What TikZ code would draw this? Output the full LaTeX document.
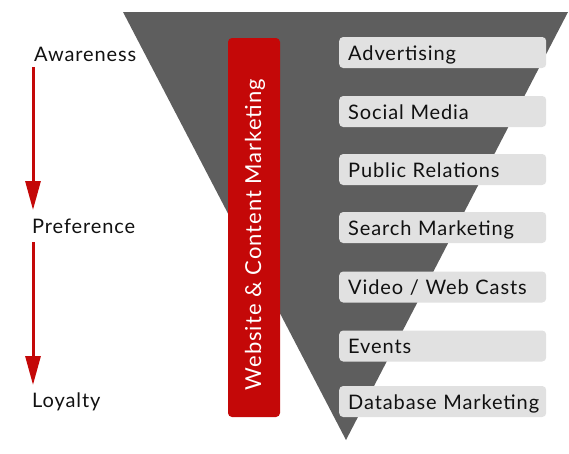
\documentclass[tikz,border=0pt]{standalone}
\usepackage{fontspec}
\setmainfont{Lato}[LetterSpace=4.5]
\usetikzlibrary{arrows.meta}
\definecolor{funnel}{HTML}{5E5E5E}
\definecolor{barred}{HTML}{C40808}
\definecolor{boxgrey}{HTML}{E1E1E1}
\definecolor{txt}{HTML}{111111}
\tikzset{
  chan/.style={anchor=west, fill=boxgrey, rounded corners=4pt, minimum width=207pt,
    minimum height=31pt, inner xsep=0pt, text width=207pt, align=left,
    text height=15pt, text depth=0pt,
    execute at begin node={\hyphenpenalty=10000\hspace*{9pt}},
    font=\fontsize{20}{22}\selectfont, text=txt},
  stage/.style={anchor=base west, inner sep=0pt, font=\fontsize{20}{22}\selectfont, text=txt},
  flow/.style={draw=barred, line width=3pt, -{Triangle[length=29pt,width=15pt]}}
}
\begin{document}
\begin{tikzpicture}[x=1pt,y=-1pt]
\useasboundingbox (0,0) rectangle (569,453);
\fill[funnel] (123,12) -- (568,12) -- (346,440) -- cycle;
\node[fill=barred, rounded corners=4pt, minimum width=52pt, minimum height=379pt, inner sep=0pt] (bar) at (254,227.5) {};
\node[rotate=90, text=white, font=\fontsize{22}{24}\selectfont, inner sep=0pt] (bartxt) at (255,234.5) {Website \& Content Marketing};
\node[chan] (c1) at (339,52.5) {Advertising};
\node[chan] (c2) at (339,111.5) {Social Media};
\node[chan] (c3) at (339,169.5) {Public Relations};
\node[chan] (c4) at (339,227.5) {Search Marketing};
\node[chan] (c5) at (339,287) {Video / Web Casts};
\node[chan] (c6) at (339,346) {Events};
\node[chan] (c7) at (339,401.5) {Database Marketing};
\node[stage] (aw) at (34,61) {Awareness};
\node[stage] (pr) at (32,233) {Preference};
\node[stage] (lo) at (32,407) {Loyalty};
\coordinate (a1s) at (33,67);
\coordinate (a1e) at (33,210);
\coordinate (a2s) at (33,242);
\coordinate (a2e) at (33,385);
\draw[flow] (a1s) -- (a1e);
\draw[flow] (a2s) -- (a2e);
\end{tikzpicture}
\end{document}
